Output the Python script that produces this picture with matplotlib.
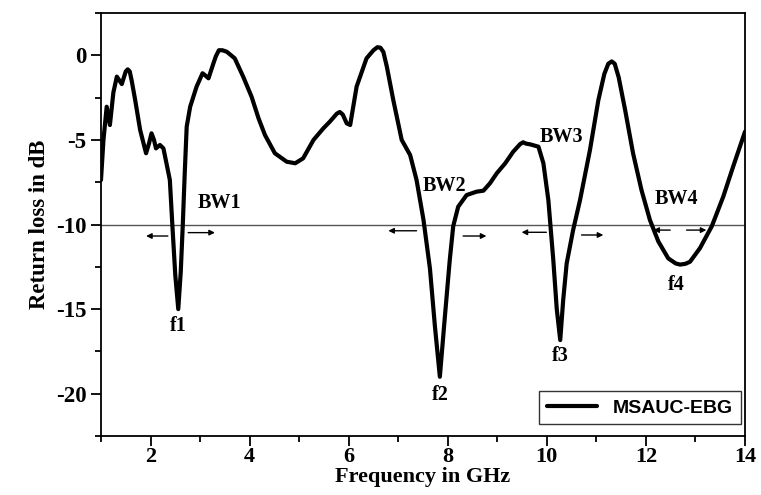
import matplotlib
matplotlib.use("Agg")
import matplotlib.pyplot as plt
from matplotlib.ticker import MultipleLocator

plt.rcParams["axes.unicode_minus"] = False

# return loss curve
freq = [1.00, 1.05, 1.115, 1.18, 1.25, 1.32, 1.42, 1.50, 1.54, 1.58, 1.62, 1.69, 1.79, 1.91,
        1.97, 2.02, 2.07, 2.11, 2.19, 2.26, 2.33, 2.39, 2.44, 2.50, 2.56, 2.61, 2.65, 2.69,
        2.73, 2.80, 2.93, 3.05, 3.11, 3.17, 3.27, 3.32, 3.38, 3.45, 3.54, 3.70, 3.87, 4.04,
        4.18, 4.31, 4.51, 4.75, 4.92, 5.08, 5.29, 5.49, 5.62, 5.76, 5.82, 5.88, 5.96, 6.03,
        6.16, 6.36, 6.50, 6.58, 6.64, 6.70, 6.77, 6.90, 7.07, 7.24, 7.37, 7.51, 7.64, 7.74,
        7.84, 7.94, 8.04, 8.11, 8.21, 8.38, 8.58, 8.72, 8.85, 8.99, 9.16, 9.32, 9.46, 9.52,
        9.58, 9.66, 9.83, 9.93, 10.03, 10.13, 10.20, 10.27, 10.33, 10.40, 10.53, 10.67,
        10.87, 11.04, 11.16, 11.24, 11.31, 11.37, 11.45, 11.58, 11.74, 11.91, 12.08, 12.25,
        12.45, 12.60, 12.69, 12.80, 12.89, 13.09, 13.33, 13.56, 13.76, 14.00]
rl = [-7.37, -5.0, -3.04, -4.12, -2.2, -1.26, -1.70, -0.95, -0.83, -0.95, -1.5, -2.64, -4.41,
      -5.79, -5.2, -4.61, -5.0, -5.5, -5.3, -5.5, -6.5, -7.37, -10.0, -13.0, -15.0, -12.8,
      -10.1, -7.0, -4.22, -3.04, -1.85, -1.06, -1.2, -1.36, -0.47, -0.05, 0.3, 0.3, 0.21,
      -0.18, -1.26, -2.45, -3.72, -4.71, -5.79, -6.29, -6.38, -6.09, -5.0, -4.31, -3.92,
      -3.45, -3.35, -3.5, -4.02, -4.12, -1.85, -0.18, 0.3, 0.48, 0.45, 0.2, -0.67, -2.64,
      -5.0, -5.89, -7.37, -9.73, -12.6, -16.0, -19.0, -15.5, -12.1, -10.1, -8.95, -8.26,
      -8.06, -8.0, -7.57, -6.97, -6.38, -5.7, -5.25, -5.14, -5.22, -5.26, -5.4, -6.38,
      -8.55, -12.1, -15.0, -16.83, -14.46, -12.3, -10.33, -8.55, -5.6, -2.64, -1.1, -0.5,
      -0.36, -0.5, -1.3, -3.23, -5.79, -7.96, -9.73, -11.0, -12.0, -12.3, -12.37, -12.32,
      -12.2, -11.4, -10.1, -8.36, -6.58, -4.51]

# resonance labels
f_names = ["f1", "f2", "f3", "f4"]
f_x = [2.56, 7.84, 10.27, 12.62]
f_y = [-16.0, -20.1, -17.8, -13.6]

# bandwidth labels
bw_names = ["BW1", "BW2", "BW3", "BW4"]
bw_x = [3.40, 7.94, 10.30, 12.61]
bw_y = [-8.7, -7.7, -4.85, -8.5]

# bandwidth arrows: (tail x, head x, y)
arr_tail = [2.35, 2.76, 7.37, 8.31, 9.99, 10.70, 12.49, 12.82]
arr_head = [1.91, 3.30, 6.80, 8.78, 9.49, 11.14, 12.15, 13.22]
arr_y = [-10.68, -10.48, -10.37, -10.68, -10.46, -10.62, -10.33, -10.33]

serif = "Liberation Serif"

fig = plt.figure(figsize=(7.61, 4.95), dpi=100)
ax = fig.add_subplot(111)
fig.subplots_adjust(left=0.1327, right=0.979, top=0.9737, bottom=0.1192)

ax.axhline(-10, color="#555555", lw=1.0, zorder=1)
ax.plot(freq, rl, color="black", lw=3.0, solid_joinstyle="round", solid_capstyle="round",
        label="MSAUC-EBG", zorder=3)

for name, x, y in zip(f_names, f_x, f_y):
    ax.text(x, y, name, ha="center", va="center", family=serif, weight="bold", fontsize=14.5)
for name, x, y in zip(bw_names, bw_x, bw_y):
    ax.text(x, y, name, ha="center", va="center", family=serif, weight="bold", fontsize=14.5)
for t, h, y in zip(arr_tail, arr_head, arr_y):
    ax.annotate("", xy=(h, y), xytext=(t, y),
                arrowprops=dict(arrowstyle="-|>", lw=1.0, color="black", mutation_scale=8,
                                shrinkA=0, shrinkB=0))

ax.set_xlim(1, 14)
ax.set_ylim(-22.5, 2.5)
ax.xaxis.set_major_locator(MultipleLocator(2))
ax.xaxis.set_minor_locator(MultipleLocator(1))
ax.yaxis.set_major_locator(MultipleLocator(5))
ax.yaxis.set_minor_locator(MultipleLocator(2.5))
ax.tick_params(which="major", direction="out", length=7, width=1.3)
ax.tick_params(which="minor", direction="out", length=4, width=1.3)
ax.tick_params(axis="x", pad=1)
ax.tick_params(top=False, right=False)
for s in ax.spines.values():
    s.set_linewidth(1.3)

for lab in ax.get_xticklabels():
    lab.set_fontfamily(serif)
    lab.set_fontweight("bold")
    lab.set_fontsize(16)
for lab in ax.get_yticklabels():
    lab.set_fontfamily(serif)
    lab.set_fontweight("bold")
    lab.set_fontsize(16.5)

ax.set_xlabel("Frequency in GHz", family=serif, weight="bold", fontsize=16, labelpad=0)
ax.set_ylabel("Return loss in dB", family=serif, weight="bold", fontsize=16.5, labelpad=4)

leg = ax.legend(loc="lower right", bbox_to_anchor=(0.9933, 0.0277), borderaxespad=0,
                fancybox=False, frameon=True, handlelength=2.6,
                prop={"family": "Liberation Sans", "weight": "bold", "size": 14})
leg.get_frame().set_edgecolor("black")
leg.get_frame().set_linewidth(1.0)

fig.savefig("out.png", dpi=100)
